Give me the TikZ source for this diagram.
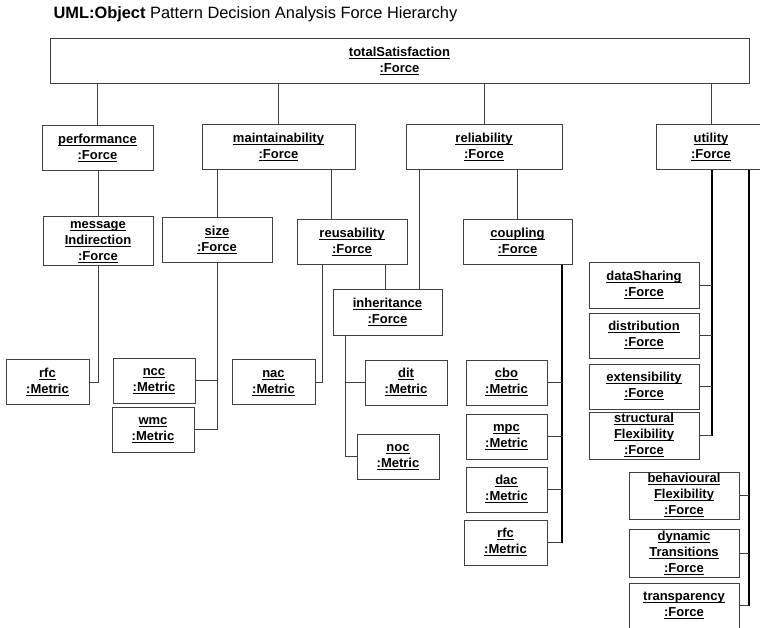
\documentclass[tikz,border=0pt]{standalone}
\usepackage{fontspec}
\setmainfont{Liberation Sans}
\usepackage{tikz}
\usetikzlibrary{positioning}

% underlined object names
\newcommand{\uname}[1]{\underline{\vphantom{A}\smash{#1}}}
\newcommand{\force}[1]{\uname{#1}\\\uname{:Force}}
\newcommand{\metric}[1]{\uname{#1}\\\uname{:Metric}}

\tikzset{
    %Define style for boxes
    obj/.style={
           rectangle,
           draw=black!75, line width=1pt,
           fill=white,
           inner sep=0pt,
           minimum width=110pt,
           minimum height=45pt,
           font=\fontsize{13}{16}\selectfont\bfseries,
           align=center,
           },
    metricbox/.style={
           obj,
           minimum width=82pt,
           },
    % Define connector styles
    link/.style={
           draw=black!75,
           line width=1pt,},
    trunk/.style={
           draw=black,
           line width=2pt,}
}

\begin{document}
\begin{tikzpicture}[x=1pt,y=-1pt]
\clip (0,0) rectangle (760,628);
\fill[white] (0,0) rectangle (760,628);

\node[anchor=base west, font=\fontsize{16.4}{19}\selectfont] (title) at (50,19)
    {\textbf{UML:Object} Pattern Decision Analysis Force Hierarchy};

 %nodes
\node[obj, minimum width=699pt](total) at (399.5,61.5){\force{totalSatisfaction}};
\node[obj, minimum width=111pt](perf) at (97.5,148){\force{performance}};
\node[obj, minimum width=153pt](maint) at (278.5,147.5){\force{maintainability}};
\node[obj, minimum width=156pt](rel) at (484,147.5){\force{reliability}};
\node[obj](util) at (711,147.5){\force{utility}};

\node[obj, minimum height=49pt](msg) at (98,241.5){\uname{message}\\\force{Indirection}};
\node[obj](size) at (217,240.5){\force{size}};
\node[obj](reuse) at (352,242.5){\force{reusability}};
\node[obj, minimum width=109pt](inh) at (387.5,312.5){\force{inheritance}};
\node[obj, minimum width=109pt](coupl) at (517.5,242.5){\force{coupling}};

\node[metricbox, minimum width=83pt](rfcA) at (47.5,382){\metric{rfc}};
\node[metricbox](ncc) at (154,380.5){\metric{ncc}};
\node[metricbox, below=3pt of ncc.south west, anchor=north west, xshift=-1pt](wmc){\metric{wmc}};
\node[metricbox, minimum width=83pt](nac) at (273.5,382){\metric{nac}};
\node[metricbox](dit) at (406,382.5){\metric{dit}};
\node[metricbox](noc) at (398,456.5){\metric{noc}};

\node[metricbox, minimum width=81pt](cbo) at (506.5,382.5){\metric{cbo}};
\node[metricbox, minimum width=81pt](mpc) at (506.5,436.5){\metric{mpc}};
\node[metricbox, minimum width=81pt](dac) at (506.5,489.5){\metric{dac}};
\node[metricbox, minimum width=83pt](rfcB) at (505.5,542.5){\metric{rfc}};

\node[obj](share) at (644,285.5){\force{dataSharing}};
\node[obj](distr) at (644,335.5){\force{distribution}};
\node[obj](ext) at (644,386.5){\force{extensibility}};
\node[obj, minimum height=47pt](struct) at (644,435.5){\uname{structural}\\\force{Flexibility}};
\node[obj, minimum height=47pt](behav) at (684,495.5){\uname{behavioural}\\\force{Flexibility}};
\node[obj, minimum height=48pt](dyn) at (684,553){\uname{dynamic}\\\force{Transitions}};
\node[obj](transp) at (684,605.5){\force{transparency}};

 %connectors
\foreach \n in {perf,maint,rel,util}
    \draw[link] (\n.north) -- (\n.north |- total.south);
\draw[link] (msg.north) -- (msg.north |- perf.south);
\draw[link] (msg.south) |- (rfcA.east);

\draw[link] (size.north) -- (size.north |- maint.south);
\draw[link] ([xshift=-21pt]reuse.north) -- ([xshift=-21pt]reuse.north |- maint.south);
\draw[link] (size.south) |- (wmc.east);
\draw[link] (size.south |- ncc.east) -- (ncc.east);
\draw[link] ([xshift=-30pt]reuse.south) |- (nac.east);
\draw[link] ([xshift=-2.5pt]inh.north) -- ([xshift=-2.5pt]inh.north |- reuse.south);
\draw[link] ([xshift=31.5pt]inh.north) -- ([xshift=31.5pt]inh.north |- rel.south);
\draw[link] ([xshift=13pt]inh.south west) |- (noc.west);
\draw[link] ([xshift=13pt]inh.south west |- dit.west) -- (dit.west);

\draw[link] (coupl.north) -- (coupl.north |- rel.south);
\coordinate (cbus) at ([xshift=-11pt]coupl.south east);
\draw[trunk] (cbus) -- (cbus |- rfcB.east);
\foreach \n in {cbo,mpc,dac,rfcB}
    \draw[link] (\n.east) -- (\n.east -| cbus);

\coordinate (ubusA) at ([xshift=1pt]util.south);
\coordinate (ubusB) at ([xshift=38pt]util.south);
\draw[trunk] (ubusA) -- (ubusA |- struct.east);
\draw[trunk] (ubusB) -- (ubusB |- transp.east);
\foreach \n in {share,distr,ext,struct}
    \draw[link] (\n.east) -- (\n.east -| ubusA);
\foreach \n in {behav,dyn,transp}
    \draw[link] (\n.east) -- (\n.east -| ubusB);

\end{tikzpicture}
\end{document}
